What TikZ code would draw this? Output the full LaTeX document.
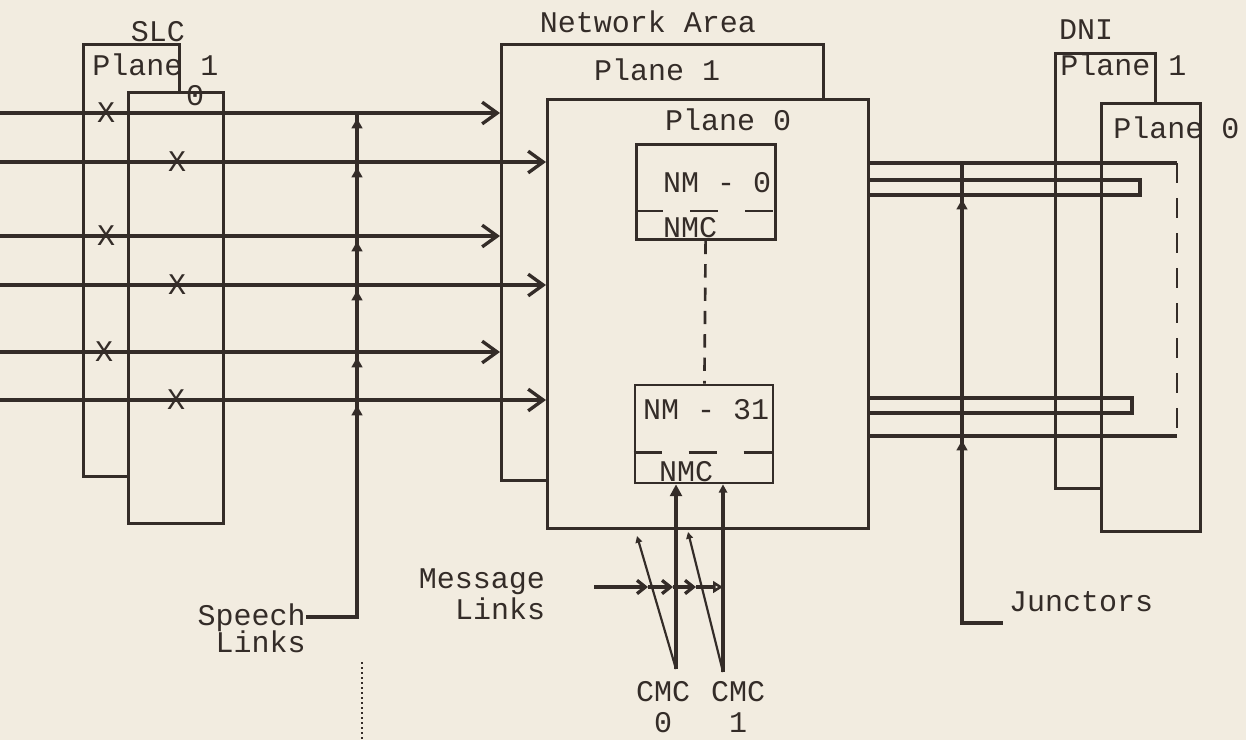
\documentclass[tikz,border=0pt]{standalone}
\usepackage{fontspec}
\setmainfont{Liberation Mono}
\usetikzlibrary{arrows.meta, positioning, shapes.geometric}
\definecolor{paper}{RGB}{242,236,224}
\definecolor{ink}{RGB}{52,44,40}
\def\px{0.6pt}

\begin{document}
\begin{tikzpicture}[x=\px, y=-\px,
    plane/.style={rectangle, draw=ink, line width=1.6pt, fill=paper,
                  anchor=north west, inner sep=0pt},
    nmbox/.style={rectangle, draw=ink, line width=1.6pt, fill=paper, inner sep=0pt},
    lbl/.style={text=ink, font=\fontsize{18}{18.6}\selectfont, inner sep=0pt},
    link/.style={draw=ink, line width=2pt},
    thinlink/.style={draw=ink, line width=1.3pt},
    inarrow/.style={link, -{Straight Barb[length=9pt, width=13pt]}},
    msgarrow/.style={link, -{Straight Barb[length=5pt, width=8pt]}},
    upmark/.style={regular polygon, regular polygon sides=3, fill=ink,
                   inner sep=0pt, minimum size=13*\px},
    sepline/.style={draw=ink, line width=1.6pt, dash pattern=on 16.8pt off 16.2pt},
    busdash/.style={draw=ink, line width=1.6pt, dash pattern=on 8pt off 6pt},
    jdash/.style={draw=ink, line width=1.6pt, dash pattern=on 12pt off 9pt}
]
\fill[paper] (0,0) rectangle (1246,740);
\useasboundingbox (0,0) rectangle (1246,740);

% SLC planes
\node[plane, minimum width=96*\px, minimum height=432*\px] (slc1) at (82,43) {};
\node[plane, minimum width=95*\px, minimum height=431*\px] (slc0) at (127,91) {};
\node[lbl] (slc) at (158,32) {SLC};
\node[lbl, anchor=west] (slcp1) at (92,65) {Plane 1};
\node[lbl] (slcp0) at (195,96) {0};

% Network area planes
\node[plane, minimum width=322*\px, minimum height=436*\px] (net1) at (500,43) {};
\node[plane, minimum width=321*\px, minimum height=429*\px] (net0) at (546,98) {};
\node[lbl] (netarea) at (648,22) {Network Area};
\node[lbl] (netp1) at (657,70) {Plane 1};
\node[lbl] (netp0) at (728,120) {Plane 0};

% network modules
\node[nmbox, minimum width=139*\px, minimum height=95*\px] (nm0) at (706,192) {};
\node[nmbox, minimum width=138*\px, minimum height=98*\px] (nm31) at (704,434) {};
\node[lbl] (nm0t) at (717,183) {NM - 0};
\node[lbl] (nmc0t) at (690,228) {NMC};
\node[lbl] (nm31t) at (706,410) {NM - 31};
\node[lbl] (nmc31t) at (686,472) {NMC};
\draw[sepline] ([yshift=18pt]nm0.south west) -- ([yshift=18pt]nm0.south east);
\draw[sepline] ([yshift=19.2pt]nm31.south west) -- ([yshift=19.2pt]nm31.south east);
\draw[busdash] (nm0) -- (nm31);

% DNI planes
\node[plane, minimum width=100*\px, minimum height=435*\px] (dni1) at (1054,52) {};
\node[plane, minimum width=99*\px, minimum height=428*\px] (dni0) at (1100,102) {};
\node[lbl] (dni) at (1086,30) {DNI};
\node[lbl, anchor=west] (dnip1) at (1060,65) {Plane 1};
\node[lbl, anchor=west] (dnip0) at (1113,128) {Plane 0};

% speech links
\node[lbl, anchor=east] (speech) at (306,618) {Speech};
\node[lbl, anchor=east] (speechb) at (306,642) {Links};
\foreach \y/\tgt/\xm [count=\i] in {113/net1/106, 162/net0/177, 236/net1/106,
                                    285/net0/177, 352/net1/104, 400/net0/176}{
  \coordinate (sp\i) at (0,\y);
  \draw[inarrow] (sp\i) -- (sp\i -| \tgt.west);
  \node[lbl] at (\xm,\y) {X};
  \node[upmark] at (357,\y+12) {};
}
\coordinate (spbus) at (357,617);
\draw[link] (sp1 -| spbus) -- (spbus) -- (speech.east |- spbus);
\coordinate (spdots) at (362,662);
\draw[ink, line width=1pt, dotted] (spdots) -- (spdots |- 0,740);

% message links and CMCs
\node[lbl, align=right] (msg) at (482,594) {Message\\Links};
\node[lbl, align=center] (cmc0) at (663,707) {CMC\\0};
\node[lbl, align=center] (cmc1) at (738,707) {CMC\\1};
\coordinate (cv0) at (676,669);
\coordinate (cv1) at (723,672);
\coordinate (cd0) at (637,536);
\coordinate (cd1) at (688,532);
\draw[link, -{Triangle[length=7pt, width=7pt]}] (cv0) -- (nm31.south -| cv0);
\draw[link, -{Triangle[length=5pt, width=5pt]}] (cv1) -- (nm31.south -| cv1);
\draw[thinlink, -{Triangle[length=4pt, width=4pt]}] (cv0) -- (cd0);
\draw[thinlink, -{Triangle[length=4pt, width=4pt]}] (cv1) -- (cd1);
\coordinate (m0) at (594,587);
\coordinate (m1) at (648,587);
\coordinate (m2) at (673,587);
\coordinate (m3) at (696,587);
\draw[msgarrow] (m0) -- (m1);
\draw[msgarrow] (m1) -- (m2);
\draw[msgarrow] (m2) -- (m3);
\draw[link, -{Triangle[open, length=6pt, width=7pt]}] (m3) -- (m3 -| cv1);

% junctors
\coordinate (jtr) at (1177,163);
\coordinate (jbr) at (1177,436);
\draw[link] (net0.east |- jtr) -- (jtr);
\draw[jdash] (jtr) -- (jbr);
\draw[link] (jbr) -- (net0.east |- jbr);
\coordinate (ja) at (1140,180);
\coordinate (jb) at (1140,195);
\draw[link] (net0.east |- ja) -- (ja) -- (jb) -- (net0.east |- jb);
\coordinate (jc) at (1132,398);
\coordinate (jd) at (1132,413);
\draw[link] (net0.east |- jc) -- (jc) -- (jd) -- (net0.east |- jd);
\node[lbl] (junct) at (1081,602) {Junctors};
\coordinate (jbus) at (962,623);
\coordinate (jend) at (1003,623);
\draw[link] (jbus |- jtr) -- (jbus) -- (jend);
\node[upmark] at (962,206) {};
\node[upmark] at (962,447) {};

\end{tikzpicture}
\end{document}
